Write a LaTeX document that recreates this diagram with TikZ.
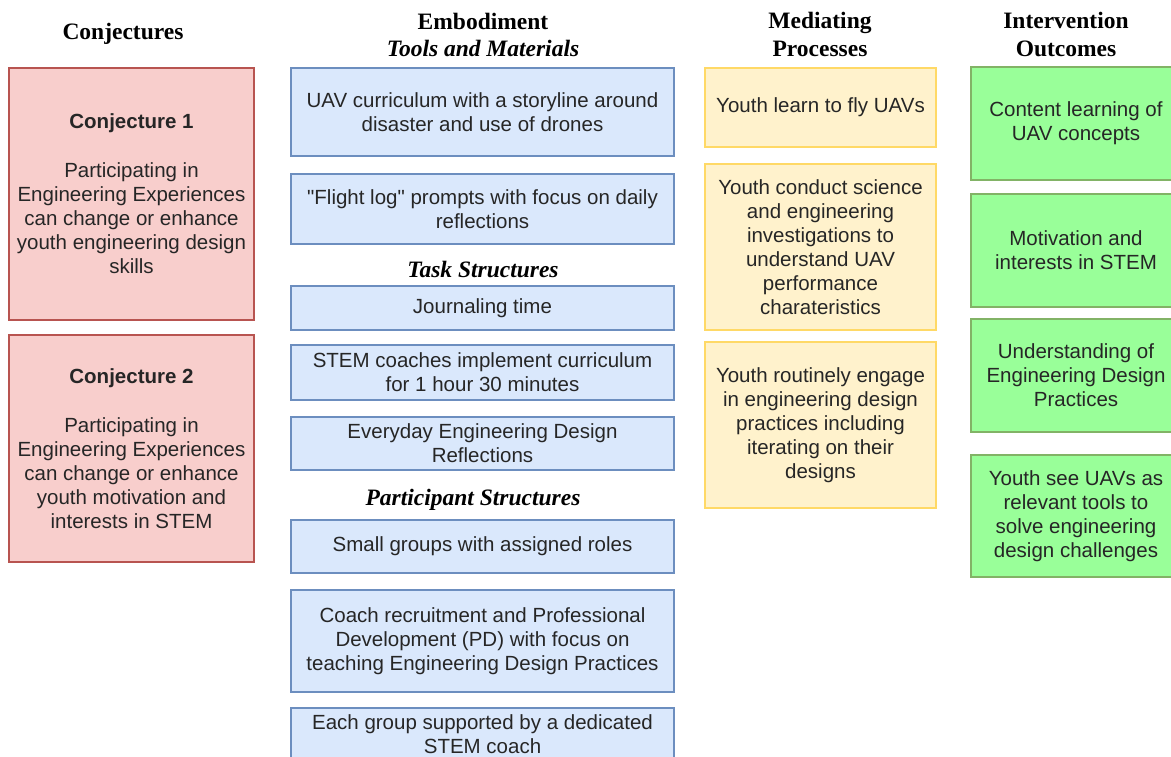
\documentclass[tikz,border=0pt]{standalone}
\usepackage{fontspec}
\setmainfont{Liberation Serif}
\newfontfamily\boxfont{Liberation Sans}
\definecolor{redfill}{HTML}{F8CECC}
\definecolor{redline}{HTML}{B85450}
\definecolor{bluefill}{HTML}{DAE8FC}
\definecolor{blueline}{HTML}{6C8EBF}
\definecolor{yelfill}{HTML}{FFF2CC}
\definecolor{yelline}{HTML}{FFD966}
\definecolor{grnfill}{HTML}{99FF99}
\definecolor{grnline}{HTML}{82B366}
\tikzset{
  basebox/.style={draw, line width=1.3pt, inner sep=0pt, align=center,
    font=\boxfont\fontsize{20.5}{24}\selectfont, text=black!85},
  redbox/.style={basebox, fill=redfill, draw=redline, minimum width=245pt},
  bluebox/.style={basebox, fill=bluefill, draw=blueline, minimum width=383pt},
  yelbox/.style={basebox, fill=yelfill, draw=yelline, minimum width=231pt},
  grnbox/.style={basebox, fill=grnfill, draw=grnline, minimum width=210pt},
  head/.style={align=center, inner sep=0pt, font=\rmfamily\bfseries\fontsize{23.5}{27.5}\selectfont},
  subhead/.style={align=center, inner sep=0pt, font=\rmfamily\bfseries\itshape\fontsize{23.5}{27.5}\selectfont}
}
\begin{document}
\begin{tikzpicture}[x=1pt,y=-1pt]
\clip (0,0) rectangle (1171,757);
\fill[white] (0,0) rectangle (1171,757);
% headers
\node[head] (hconj) at (123,34) {Conjectures};
\node[head] (hemb) at (483,21) {Embodiment};
\node[subhead] (htools) at (483,48) {Tools and Materials};
\node[head] (hmed) at (820,34.5) {Mediating\\Processes};
\node[head] (hout) at (1066,34.5) {Intervention\\Outcomes};
\node[subhead] (htask) at (483,269) {Task Structures};
\node[subhead] (hpart) at (473,500) {Participant Structures};
% conjectures
\node[redbox, minimum height=252pt] (c1) at (131.5,194) {{\bfseries Conjecture 1}\\[25pt]Participating in\\Engineering Experiences\\can change or enhance\\youth engineering design\\skills};
\node[redbox, minimum height=227pt] (c2) at (131.5,448.5) {{\bfseries Conjecture 2}\\[25pt]Participating in\\Engineering Experiences\\can change or enhance\\youth motivation and\\interests in STEM};
% embodiment
\node[bluebox, minimum height=88pt] (b1) at (482.5,112) {UAV curriculum with a storyline around\\disaster and use of drones};
\node[bluebox, minimum height=70pt] (b2) at (482.5,209) {"Flight log" prompts with focus on daily\\reflections};
\node[bluebox, minimum height=44pt] (b3) at (482.5,308) {Journaling time};
\node[bluebox, minimum height=55pt] (b4) at (482.5,372.5) {STEM coaches implement curriculum\\for 1 hour 30 minutes};
\node[bluebox, minimum height=53pt] (b5) at (482.5,443.5) {Everyday Engineering Design\\Reflections};
\node[bluebox, minimum height=53pt] (b6) at (482.5,546.5) {Small groups with assigned roles};
\node[bluebox, minimum height=102pt] (b7) at (482.5,641) {Coach recruitment and Professional\\Development (PD) with focus on\\teaching Engineering Design Practices};
\node[bluebox, minimum height=52pt] (b8) at (482.5,734) {Each group supported by a dedicated\\STEM coach};
% mediating
\node[yelbox, minimum height=79pt] (y1) at (820.5,107.5) {Youth learn to fly UAVs};
\node[yelbox, minimum height=166pt] (y2) at (820.5,247) {Youth conduct science\\and engineering\\investigations to\\understand UAV\\performance\\charateristics};
\node[yelbox, minimum height=166pt] (y3) at (820.5,425) {Youth routinely engage\\in engineering design\\practices including\\iterating on their\\designs};
% outcomes
\node[grnbox, minimum height=113pt] (g1) at (1076,123.5) {Content learning of\\UAV concepts};
\node[grnbox, minimum height=113pt] (g2) at (1076,250.5) {Motivation and\\interests in STEM};
\node[grnbox, minimum height=113pt] (g3) at (1076,375.5) {Understanding of\\Engineering Design\\Practices};
\node[grnbox, minimum height=122pt] (g4) at (1076,516) {Youth see UAVs as\\relevant tools to\\solve engineering\\design challenges};
\end{tikzpicture}
\end{document}
